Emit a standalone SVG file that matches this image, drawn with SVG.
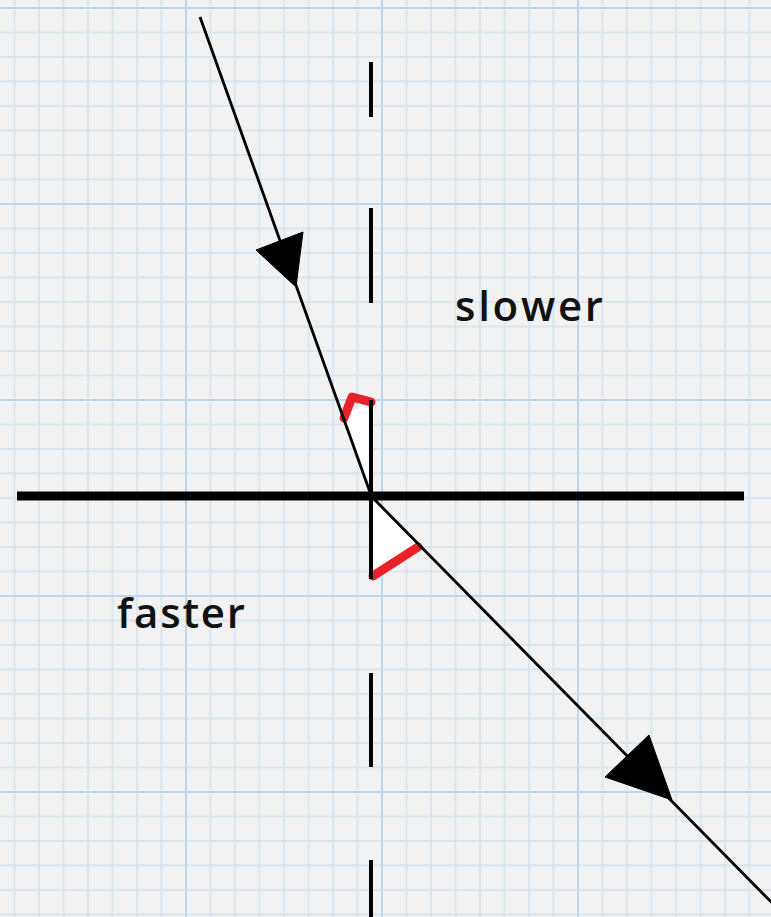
<svg xmlns="http://www.w3.org/2000/svg" width="771" height="917" viewBox="0 0 771 917">
  <defs>
    <pattern id="minor" x="13.5" y="7" width="24.5" height="24.5" patternUnits="userSpaceOnUse">
      <path d="M1,0 V24.5 M0,1 H24.5" stroke="#d2e3ee" stroke-width="1.4" fill="none"/>
    </pattern>
    <pattern id="major" x="-11" y="7" width="196" height="196" patternUnits="userSpaceOnUse">
      <path d="M1,0 V196 M0,1 H196" stroke="#bdd8ea" stroke-width="2" fill="none"/>
    </pattern>
  </defs>
  <style>
    .axis { stroke: #000; fill: none; }
    .ray { stroke: #000; fill: none; stroke-width: 2.8; }
    .head { fill: #000; stroke: #000; stroke-width: 1; stroke-linejoin: round; }
    .angle { fill: #ffffff; stroke: none; }
    .mark { stroke: #e8202a; fill: none; stroke-linecap: round; stroke-linejoin: round; }
    .label { font-family: "Open Sans", "Liberation Sans", sans-serif; font-size: 42px; font-weight: 600; fill: #111; }
  </style>
  <rect width="771" height="917" fill="#f1f2f1"/>
  <rect width="771" height="917" fill="url(#minor)"/>
  <rect width="771" height="917" fill="url(#major)"/>

  <g id="angle-incident">
    <polygon class="angle" points="343,416 371,402 371,495"/>
    <path class="mark" stroke-width="9" d="M344,418 L352,397 L371,402"/>
  </g>
  <g id="angle-refracted">
    <polygon class="angle" points="371,497 371,577 418,545"/>
    <path class="mark" stroke-width="9" d="M373,576 L418,547"/>
  </g>

  <g id="normal">
    <path class="axis" stroke-width="4" d="M371,62 V117 M371,208 V303 M371,400 V495 M371,495 V579 M371,673 V767 M371,860 V917"/>
  </g>

  <g id="boundary">
    <line class="axis" x1="17" y1="496" x2="744" y2="496" stroke-width="9"/>
  </g>

  <g id="connectors">
    <g id="incident-ray">
      <line class="ray" x1="200" y1="17" x2="371" y2="495"/>
      <polygon class="head" points="296,287 256,250 303,232"/>
    </g>
    <g id="refracted-ray">
      <line class="ray" x1="371" y1="496" x2="780" y2="911"/>
      <polygon class="head" points="672,800 605,777 649,735"/>
    </g>
  </g>

  <g id="label-slower">
    <text class="label" x="455" y="321" textLength="148" lengthAdjust="spacing">slower</text>
  </g>
  <g id="label-faster">
    <text class="label" x="117" y="628" textLength="128" lengthAdjust="spacing">faster</text>
  </g>
</svg>
